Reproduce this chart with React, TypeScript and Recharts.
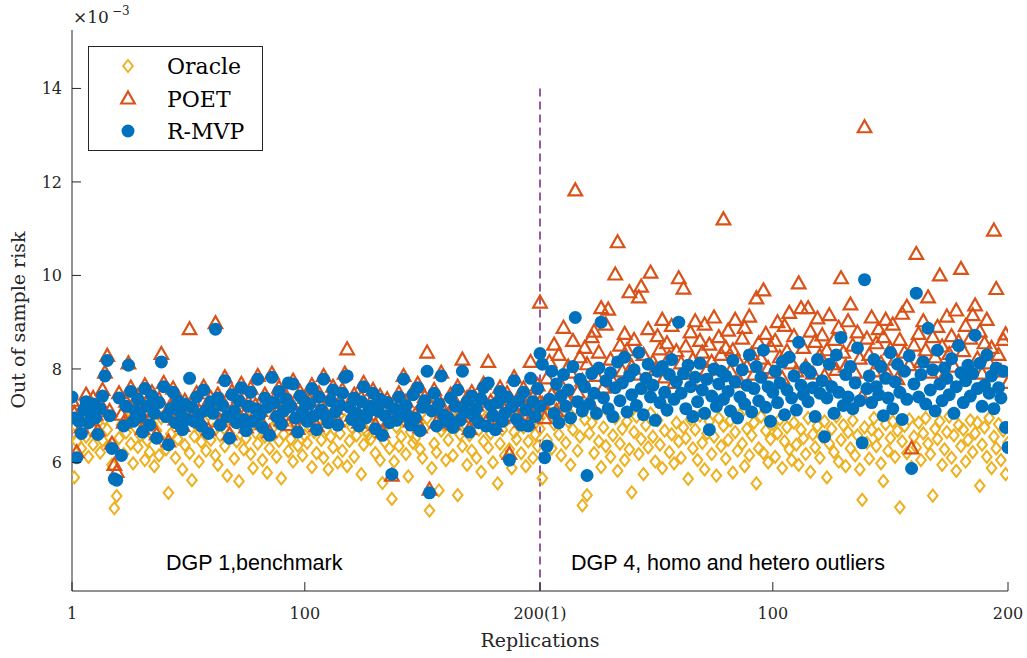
import { ScatterChart, Scatter, XAxis, YAxis, ReferenceLine } from 'recharts'

// out of sample risk (x 1e-3), replications 1..200 of each DGP
const oracleDgp1 = [
  6.62, 5.68, 6.45, 6.91, 6.30, 6.72, 6.55, 6.12, 7.05, 6.38, 6.60, 6.85, 6.21, 6.47, 6.93, 6.70, 6.35, 5.95, 5.02, 5.28,
  6.52, 6.80, 6.18, 6.64, 7.12, 6.40, 5.98, 6.75, 6.33, 6.58, 6.90, 6.05, 6.47, 6.22, 6.83, 5.92, 6.68, 6.15, 6.95, 6.42,
  6.28, 5.35, 6.61, 6.88, 6.10, 6.50, 6.73, 5.85, 6.37, 6.97, 6.20, 5.62, 6.56, 6.81, 6.02, 6.44, 6.66, 6.25, 7.02, 6.48,
  6.70, 6.15, 5.95, 6.58, 6.83, 6.35, 5.72, 6.62, 6.90, 6.08, 6.45, 5.60, 6.77, 6.28, 6.52, 6.92, 6.18, 5.88, 6.64, 6.40,
  6.85, 6.05, 6.55, 5.78, 6.30, 6.72, 6.98, 6.12, 6.46, 5.66, 6.60, 6.88, 6.24, 6.50, 6.02, 6.78, 6.36, 6.94, 6.15, 6.58,
  6.42, 6.80, 5.90, 6.65, 6.20, 6.95, 6.48, 6.10, 6.70, 5.85, 6.55, 6.32, 6.86, 6.00, 6.62, 6.25, 6.90, 5.92, 6.46, 6.75,
  6.12, 6.58, 6.84, 5.75, 6.38, 6.68, 6.60, 6.50, 6.96, 6.20, 6.72, 6.05, 5.56, 6.44, 6.82, 6.30, 5.22, 6.02, 6.76, 6.35,
  6.55, 6.90, 6.18, 5.70, 6.65, 6.42, 6.52, 6.85, 6.28, 6.10, 6.74, 6.95, 4.97, 5.88, 6.40, 6.22, 5.40, 6.68, 6.80, 6.05,
  6.48, 6.75, 6.15, 6.92, 5.30, 6.60, 6.35, 6.82, 5.95, 6.58, 6.25, 6.88, 6.10, 6.70, 5.80, 6.45, 6.96, 6.32, 6.62, 6.00,
  6.85, 5.55, 6.40, 6.70, 6.15, 6.92, 6.28, 5.88, 6.65, 6.50, 6.98, 6.20, 6.75, 5.92, 6.45, 6.82, 6.10, 6.60, 6.35, 6.72,
]
const poetDgp1 = [
  7.32, 7.05, 6.22, 6.98, 6.75, 7.20, 7.45, 6.90, 7.15, 7.38, 7.02, 6.68, 7.25, 7.55, 7.92, 8.28, 7.10, 6.40, 5.95, 5.80,
  7.48, 7.02, 6.85, 7.30, 8.12, 7.60, 6.95, 7.18, 7.42, 7.08, 6.72, 7.65, 7.28, 6.88, 7.50, 7.12, 6.60, 7.35, 8.32, 7.70,
  7.05, 6.45, 7.22, 7.58, 6.92, 7.40, 7.15, 6.78, 7.32, 7.00, 8.85, 7.25, 6.95, 7.48, 7.10, 6.85, 7.62, 7.20, 6.70, 7.38,
  7.12, 8.98, 7.45, 6.88, 7.30, 7.82, 7.05, 6.60, 7.52, 7.18, 6.92, 7.40, 7.68, 7.00, 6.75, 7.28, 7.58, 6.95, 7.22, 7.85,
  7.10, 6.82, 7.45, 7.25, 6.65, 7.90, 7.35, 7.05, 7.60, 6.90, 7.18, 7.42, 6.80, 7.28, 7.75, 7.02, 6.72, 7.50, 7.15, 7.38,
  6.95, 7.32, 7.65, 7.08, 6.78, 7.48, 7.20, 7.85, 7.05, 6.92, 7.40, 7.62, 7.15, 6.88, 7.30, 7.55, 7.90, 8.42, 7.25, 7.00,
  7.45, 7.12, 6.85, 7.38, 7.70, 7.02, 7.15, 7.28, 7.55, 6.80, 7.18, 7.42, 6.65, 7.08, 7.35, 6.92, 5.72, 7.22, 6.98, 7.48,
  7.15, 7.85, 7.30, 7.05, 6.88, 7.52, 7.02, 7.68, 6.75, 7.25, 7.40, 8.35, 5.42, 7.18, 7.55, 6.85, 7.32, 7.92, 7.10, 6.95,
  7.02, 7.45, 6.82, 7.28, 7.62, 6.98, 8.20, 7.15, 7.38, 6.72, 7.50, 7.05, 7.22, 6.92, 7.42, 7.68, 6.85, 8.15, 7.30, 7.08,
  6.78, 7.35, 7.60, 6.95, 7.12, 7.48, 6.18, 7.25, 7.82, 7.00, 7.40, 6.88, 7.58, 7.20, 6.85, 8.15, 7.38, 7.05, 7.65, 7.28,
]
const rmvpDgp1 = [
  7.40, 6.95, 6.10, 6.88, 6.62, 7.12, 7.30, 6.85, 7.02, 7.25, 6.95, 6.60, 7.15, 7.42, 7.85, 8.18, 7.00, 6.30, 5.65, 5.62,
  7.38, 6.15, 6.78, 7.20, 8.08, 7.52, 6.88, 7.10, 7.35, 6.98, 6.65, 7.58, 7.20, 6.80, 7.42, 7.05, 6.52, 7.28, 8.15, 7.62,
  6.98, 6.38, 7.15, 7.50, 6.85, 7.32, 7.08, 6.70, 7.25, 6.92, 7.80, 7.18, 6.88, 7.40, 7.02, 6.78, 7.55, 7.12, 6.62, 7.30,
  7.05, 8.85, 7.38, 6.80, 7.22, 7.75, 6.98, 6.52, 7.45, 7.10, 6.85, 7.32, 7.60, 6.92, 6.68, 7.20, 7.50, 6.88, 7.15, 7.78,
  7.02, 6.75, 7.38, 7.18, 6.58, 7.82, 7.28, 6.98, 7.52, 6.82, 7.10, 7.35, 7.70, 7.20, 7.68, 6.95, 6.65, 7.42, 7.08, 7.30,
  6.88, 7.25, 7.58, 7.00, 6.70, 7.40, 7.12, 7.78, 6.98, 6.85, 7.32, 7.55, 7.08, 6.80, 7.22, 7.48, 7.82, 7.85, 7.18, 6.92,
  7.38, 7.05, 6.78, 7.30, 7.62, 6.95, 7.08, 7.20, 7.48, 6.72, 7.10, 7.35, 6.58, 7.00, 7.28, 6.85, 5.75, 7.15, 6.90, 7.40,
  7.08, 7.78, 7.22, 6.98, 6.80, 7.45, 6.95, 7.60, 6.68, 7.18, 7.32, 7.95, 5.35, 7.10, 7.48, 6.78, 7.25, 7.85, 7.02, 6.88,
  6.95, 7.38, 6.75, 7.20, 7.55, 6.90, 7.95, 7.08, 7.30, 6.65, 7.42, 6.98, 7.15, 6.85, 7.35, 7.60, 6.78, 7.70, 7.22, 7.00,
  6.70, 7.28, 7.52, 6.88, 7.05, 7.40, 6.05, 7.18, 7.75, 6.92, 7.32, 6.80, 7.50, 7.12, 6.78, 7.80, 7.30, 6.98, 7.58, 7.20,
]
const oracleDgp4 = [
  6.95, 5.66, 7.20, 6.48, 7.05, 6.30, 6.82, 7.32, 6.60, 6.15, 7.10, 6.42, 6.88, 5.95, 6.70, 7.15, 6.25, 6.55, 5.08, 6.92,
  5.30, 6.62, 6.85, 6.20, 7.02, 6.45, 5.90, 6.75, 6.35, 7.08, 6.12, 6.58, 6.95, 5.82, 6.40, 6.72, 6.05, 6.88, 6.28, 5.36,
  6.65, 6.98, 6.18, 6.50, 5.75, 6.80, 6.32, 7.05, 6.55, 6.02, 6.90, 6.38, 5.88, 6.68, 7.12, 6.22, 6.60, 5.98, 6.85, 6.45,
  6.10, 6.75, 6.52, 5.65, 6.92, 6.30, 6.70, 6.05, 7.00, 6.42, 5.85, 6.62, 6.88, 6.18, 6.55, 5.72, 6.95, 6.35, 6.78, 6.08,
  6.48, 6.90, 5.78, 6.65, 6.25, 7.02, 6.40, 5.92, 6.72, 6.15, 6.58, 6.85, 5.55, 6.30, 6.98, 6.20, 6.68, 6.00, 6.50, 6.82,
  6.12, 6.62, 6.92, 5.88, 6.45, 6.75, 6.28, 6.05, 6.85, 6.38, 5.95, 6.70, 6.52, 6.18, 6.95, 5.80, 6.60, 6.32, 6.78, 6.10,
  6.55, 6.88, 5.68, 6.40, 6.72, 6.22, 6.98, 6.02, 6.48, 6.80, 5.92, 6.65, 6.30, 6.90, 6.15, 6.58, 5.85, 5.20, 6.75, 6.42,
  6.08, 6.70, 6.95, 6.35, 6.60, 5.98, 5.60, 6.82, 6.25, 6.52, 6.88, 6.12, 6.68, 5.04, 6.45, 6.78, 6.20, 6.92, 5.90, 6.55,
  6.32, 6.85, 6.05, 6.62, 6.95, 6.40, 6.18, 5.29, 6.72, 6.50, 6.88, 5.95, 6.28, 6.65, 6.98, 6.10, 6.58, 5.82, 6.80, 6.35,
  6.70, 6.02, 6.48, 6.90, 6.22, 6.62, 6.85, 5.50, 6.38, 6.75, 6.12, 6.95, 5.88, 6.55, 6.30, 6.82, 6.05, 6.68, 5.75, 6.42,
]
const poetDgp4 = [
  9.42, 7.25, 6.95, 7.80, 8.15, 7.45, 8.52, 7.10, 8.30, 7.65, 8.88, 7.38, 8.05, 7.92, 8.60, 11.82, 7.50, 8.25, 7.75, 8.45,
  8.10, 7.30, 8.68, 8.80, 7.85, 8.35, 9.30, 7.60, 8.95, 9.27, 8.20, 7.72, 10.02, 10.71, 8.50, 7.95, 8.75, 8.40, 9.64, 8.05,
  8.62, 7.88, 9.53, 9.76, 8.30, 7.65, 8.85, 10.06, 8.15, 7.98, 8.70, 8.42, 9.05, 7.82, 8.55, 8.25, 8.92, 7.70, 8.38, 9.94,
  8.12, 9.72, 8.48, 7.90, 8.78, 8.20, 9.02, 7.75, 8.60, 8.35, 8.95, 7.98, 8.52, 8.15, 9.10, 7.85, 8.68, 8.30, 11.20, 8.45,
  8.82, 7.95, 8.40, 9.05, 8.18, 7.72, 8.65, 8.88, 8.05, 9.12, 8.32, 7.88, 9.51, 8.55, 8.22, 9.68, 8.75, 8.02, 8.48, 7.92,
  8.60, 9.00, 8.25, 7.80, 8.92, 8.38, 9.20, 8.12, 8.70, 7.95, 9.83, 9.30, 8.45, 8.05, 9.30, 8.80, 7.90, 8.58, 9.08, 8.28,
  8.72, 7.85, 8.40, 9.15, 8.10, 8.62, 7.98, 8.88, 9.94, 8.35, 8.05, 9.02, 9.38, 8.50, 7.92, 8.78, 8.22, 7.40, 13.17, 8.65,
  8.30, 9.10, 7.95, 8.55, 8.85, 8.12, 8.68, 9.05, 7.88, 8.42, 8.95, 8.20, 7.78, 8.62, 9.18, 8.35, 9.33, 8.08, 6.30, 8.50,
  10.46, 8.75, 8.15, 9.02, 8.40, 9.53, 7.92, 8.68, 8.25, 8.90, 10.00, 8.48, 7.85, 9.12, 8.32, 8.70, 8.05, 9.25, 8.58, 10.14,
  8.38, 8.92, 7.98, 8.65, 9.15, 9.36, 8.22, 8.80, 7.90, 8.55, 9.05, 8.12, 8.45, 10.96, 9.71, 8.30, 7.95, 8.62, 8.74, 7.70,
]
const rmvpDgp4 = [
  8.33, 8.10, 6.10, 6.35, 7.35, 7.95, 7.05, 7.68, 6.85, 7.42, 7.88, 7.20, 7.55, 6.95, 8.05, 9.10, 7.30, 7.78, 7.10, 7.62,
  5.72, 7.25, 7.90, 7.48, 7.05, 8.02, 9.00, 7.38, 7.75, 7.15, 7.92, 6.98, 7.60, 8.15, 7.32, 7.70, 8.25, 7.08, 7.85, 7.45,
  7.98, 7.22, 8.35, 7.58, 7.02, 7.80, 8.10, 7.40, 7.65, 6.90, 7.95, 7.28, 8.05, 7.50, 7.12, 7.88, 8.20, 7.35, 7.72, 9.00,
  7.48, 7.90, 7.15, 8.08, 7.62, 6.98, 7.82, 7.30, 8.12, 7.55, 7.05, 7.78, 6.70, 7.42, 8.00, 7.20, 7.68, 7.95, 7.35, 7.85,
  7.52, 7.10, 8.18, 7.72, 6.95, 7.40, 7.98, 7.25, 7.65, 8.30, 7.08, 7.58, 8.05, 7.32, 7.82, 8.40, 7.18, 7.62, 6.88, 7.50,
  7.95, 7.28, 7.70, 8.15, 7.02, 7.55, 8.25, 7.38, 7.85, 7.12, 8.57, 7.65, 7.45, 8.02, 7.30, 7.92, 7.60, 6.98, 8.20, 7.48,
  7.75, 6.55, 7.38, 8.10, 7.62, 7.05, 8.30, 7.50, 8.67, 7.22, 7.88, 7.40, 8.05, 7.15, 7.70, 8.45, 7.32, 6.42, 9.91, 7.58,
  7.85, 7.28, 8.20, 7.62, 7.45, 8.05, 7.00, 7.80, 7.38, 8.35, 7.15, 7.72, 8.10, 7.50, 6.92, 7.95, 7.35, 8.28, 5.87, 7.68,
  9.62, 7.40, 7.88, 8.15, 7.25, 8.87, 7.55, 7.98, 7.10, 8.40, 7.68, 7.32, 8.02, 7.80, 7.45, 8.22, 7.05, 7.62, 8.50, 7.92,
  7.28, 7.75, 8.08, 7.42, 7.90, 8.72, 7.58, 8.12, 7.20, 7.65, 8.30, 7.48, 7.85, 7.15, 8.02, 7.60, 7.38, 7.95, 6.75, 6.32,
]

const xTicks = [1, 100, 200, 299, 399]
const xTickLabels = ['1', '100', '200(1)', '100', '200']
const yTicks = [6, 8, 10, 12, 14]

const ORACLE = '#EDB120'
const POET = '#D95319'
const RMVP = '#0072BD'
const AXIS = '#262626'
const SERIF = '"DejaVu Serif", serif'
const SANS = '"Liberation Sans", Arial, sans-serif'

// second DGP starts where the first ends (replication 200 == 1)
function toPoints(first: number[], second: number[]) {
  return [
    ...first.map((y, i) => ({ x: i + 1, y })),
    ...second.map((y, i) => ({ x: i + 200, y })),
  ]
}

const oracleData = toPoints(oracleDgp1, oracleDgp4)
const poetData = toPoints(poetDgp1, poetDgp4)
const rmvpData = toPoints(rmvpDgp1, rmvpDgp4)

const Diamond = ({ cx, cy }: any) => (
  <path
    d={`M${cx},${cy - 6}L${cx + 4.8},${cy}L${cx},${cy + 6}L${cx - 4.8},${cy}Z`}
    fill="none"
    stroke={ORACLE}
    strokeWidth={2}
  />
)
const Triangle = ({ cx, cy }: any) => (
  <path
    d={`M${cx},${cy - 7}L${cx + 6.8},${cy + 5}L${cx - 6.8},${cy + 5}Z`}
    fill="none"
    stroke={POET}
    strokeWidth={2.2}
  />
)
const Dot = ({ cx, cy }: any) => <circle cx={cx} cy={cy} r={6.5} fill={RMVP} />

const XTick = ({ x, y, payload }: any) => (
  <g>
    <line x1={x} y1={y} x2={x} y2={y - 9} stroke={AXIS} />
    <text x={x} y={y + 28} textAnchor="middle" fill={AXIS} fontSize={16} fontFamily={SERIF}>
      {xTickLabels[xTicks.indexOf(payload.value)]}
    </text>
  </g>
)
const YTick = ({ x, y, payload }: any) => (
  <g>
    <line x1={x} y1={y} x2={x + 9} y2={y} stroke={AXIS} />
    <text x={x - 10} y={y + 6} textAnchor="end" fill={AXIS} fontSize={16} fontFamily={SERIF}>
      {payload.value}
    </text>
  </g>
)

const legendItems = [
  { name: 'Oracle', Shape: Diamond },
  { name: 'POET', Shape: Triangle },
  { name: 'R-MVP', Shape: Dot },
]

export default function App() {
  return (
    <div style={{ position: 'fixed', left: 0, top: 0, width: 1027, height: 658, background: '#fff' }}>
      <ScatterChart width={1027} height={658} margin={{ top: 30, right: 19, bottom: 0, left: 0 }}>
        <XAxis
          type="number"
          dataKey="x"
          domain={[1, 399]}
          ticks={xTicks}
          allowDataOverflow
          height={67}
          tickSize={0}
          tickMargin={0}
          tick={<XTick />}
          axisLine={{ stroke: AXIS }}
        />
        <YAxis
          type="number"
          dataKey="y"
          domain={[3.25, 15.25]}
          ticks={yTicks}
          allowDataOverflow
          width={72}
          tickSize={0}
          tickMargin={0}
          tick={<YTick />}
          axisLine={{ stroke: AXIS }}
        />
        <ReferenceLine
          segment={[{ x: 200, y: 14 }, { x: 200, y: 3.25 }]}
          stroke="#7E2F8E"
          strokeWidth={1.6}
          strokeDasharray="8 5"
        />
        <Scatter data={oracleData} shape={<Diamond />} isAnimationActive={false} />
        <Scatter data={poetData} shape={<Triangle />} isAnimationActive={false} />
        <Scatter data={rmvpData} shape={<Dot />} isAnimationActive={false} />
      </ScatterChart>
      <svg width={1027} height={658} style={{ position: 'absolute', left: 0, top: 0, pointerEvents: 'none' }}>
        <text x={73} y={23} fill={AXIS} fontSize={17} fontFamily={SERIF}>×10</text>
        <text x={112} y={15} fill={AXIS} fontSize={12} fontFamily={SERIF}>−3</text>
        <rect x={88.5} y={46.5} width={174} height={104} fill="#fff" stroke={AXIS} />
        {legendItems.map((it, i) => (
          <g key={it.name}>
            <it.Shape cx={128} cy={66 + i * 32.5} />
            <text x={167} y={66 + i * 32.5 + 8} fill="#000" fontSize={22} fontFamily={SERIF}>
              {it.name}
            </text>
          </g>
        ))}
        <text x={166} y={570} fill="#000" fontSize={21.5} fontFamily={SANS}>
          DGP 1,benchmark
        </text>
        <text x={571} y={570} fill="#000" fontSize={21.5} fontFamily={SANS}>
          DGP 4, homo and hetero outliers
        </text>
        <text
          x={18}
          y={320}
          transform="rotate(-90 18 320)"
          textAnchor="middle"
          dominantBaseline="central"
          fill={AXIS}
          fontSize={19}
          fontFamily={SERIF}
        >
          Out of sample risk
        </text>
        <text x={540} y={647} textAnchor="middle" fill={AXIS} fontSize={19} fontFamily={SERIF}>
          Replications
        </text>
      </svg>
    </div>
  )
}
